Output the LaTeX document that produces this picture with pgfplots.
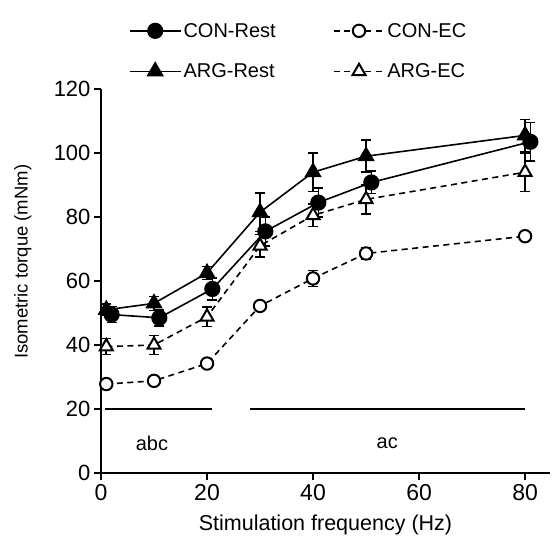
\documentclass[border=0pt]{standalone}
\usepackage{fontspec}
\setmainfont{Liberation Sans}
\usepackage{pgfplots}
\pgfplotsset{compat=1.18}

\pgfplotstableread{
x y e
2 49.5 2.5
11 48.5 2.5
21 57.5 3.5
31 75.5 4.5
41 84.5 4.5
51 90.8 3.5
81 103.5 6
}\conrest
\pgfplotstableread{
x y e
1 27.8 1
10 28.8 1
20 34.2 1
30 52.2 1
40 60.8 2.5
50 68.6 1.8
80 74 1
}\conec
\pgfplotstableread{
x y e
1 51 1.8
10 53 2.2
20 62.5 2
30 81.5 6
40 94 6
50 99 5
80 105.5 5
}\argrest
\pgfplotstableread{
x y e
1 39.5 2.5
10 40 3
20 48.8 3
30 71 3.5
40 80.5 3.5
50 85.5 4.5
80 94 6
}\argec

\begin{document}
\begin{tikzpicture}
\begin{axis}[
  scale only axis,
  width=449pt, height=384pt,
  xmin=0, xmax=84.7,
  ymin=0, ymax=120,
  axis x line*=bottom, axis y line*=left,
  axis line style={line width=1.7pt},
  xtick={0,20,...,80},
  ytick={0,20,...,120},
  tick align=outside,
  major tick length=7pt,
  tick style={line width=1.7pt, black},
  /pgf/number format/assume math mode=true,
  xticklabel style={font=\fontsize{23}{27}\selectfont, yshift=-1pt},
  yticklabel style={font=\fontsize{22}{26}\selectfont},
  xlabel={Stimulation frequency (Hz)},
  xlabel style={font=\fontsize{21.5}{25}\selectfont, at={(axis description cs:0.5,0)}, anchor=north, yshift=-38pt},
  ylabel={Isometric torque (mNm)},
  ylabel style={font=\fontsize{18.5}{22}\selectfont, at={(axis description cs:-0.174,0.55)}, anchor=center},
  legend columns=2,
  legend style={draw=none, at={(0.44,1.015)}, anchor=south,
    font=\fontsize{20}{24}\selectfont,
    /tikz/every even column/.style={column sep=55pt},
    row sep=21pt},
  legend cell align=left,
  legend image code/.code={
    \draw[mark repeat=2,mark phase=2] plot coordinates {(0pt,0pt) (25.5pt,0pt) (51pt,0pt)};},
  clip=false,
]
\coordinate (ll) at (rel axis cs:0,0);
\addplot[black, line width=1.6pt, mark=*, mark size=7.3pt, mark options={solid},
  error bars/.cd, y dir=both, y explicit,
  error bar style={line width=1.6pt, solid},
  error mark options={rotate=90, mark size=5pt, line width=1.6pt}]
  table[x=x, y=y, y error=e] {\conrest};
\addlegendentry{CON-Rest}
\addplot[black, line width=1.6pt, dash pattern=on 6pt off 4.5pt, mark=*, mark size=6.2pt,
  mark options={solid, fill=white, line width=2pt},
  error bars/.cd, y dir=both, y explicit,
  error bar style={line width=1.6pt, solid},
  error mark options={rotate=90, mark size=5pt, line width=1.6pt}]
  table[x=x, y=y, y error=e] {\conec};
\addlegendentry{CON-EC}
\addplot[black, line width=1.6pt, mark=triangle*, mark size=8.5pt, mark options={solid},
  error bars/.cd, y dir=both, y explicit,
  error bar style={line width=1.6pt, solid},
  error mark options={rotate=90, mark size=5pt, line width=1.6pt}]
  table[x=x, y=y, y error=e] {\argrest};
\addlegendentry{ARG-Rest}
\addplot[black, line width=1.6pt, dash pattern=on 6pt off 4.5pt, mark=triangle*, mark size=7.5pt,
  mark options={solid, fill=white, line width=2pt},
  error bars/.cd, y dir=both, y explicit,
  error bar style={line width=1.6pt, solid},
  error mark options={rotate=90, mark size=5pt, line width=1.6pt}]
  table[x=x, y=y, y error=e] {\argec};
\addlegendentry{ARG-EC}
% significance bars
\addplot[black, line width=2.6pt, forget plot] coordinates {(0.8,20) (21,20)};
\addplot[black, line width=2.6pt, forget plot] coordinates {(28.2,20) (80,20)};
\node[font=\fontsize{20}{24}\selectfont] at (axis cs:9.6,9.4) {abc};
\node[font=\fontsize{20}{24}\selectfont] at (axis cs:54,9.4) {ac};
\end{axis}
\pgfresetboundingbox
\path (ll) ++(-101pt,-68pt) rectangle ++(555pt,541pt);
\end{tikzpicture}
\end{document}
